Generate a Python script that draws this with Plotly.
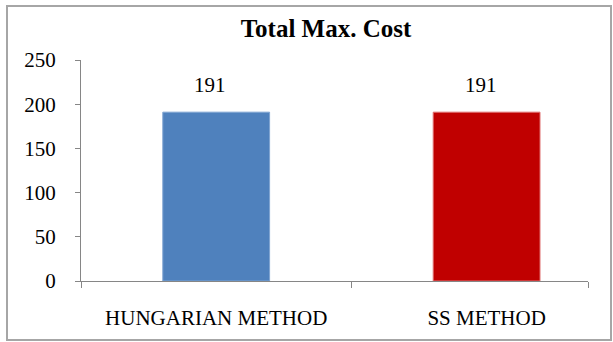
import plotly.graph_objects as go

categories = ["HUNGARIAN METHOD", "SS METHOD"]
values = [191, 191]
colors = ["#4F81BD", "#C00000"]
edge_colors = ["#7FA4D2", "#E07070"]
title_text = "Total Max. Cost"
y_tickvals = [0, 50, 100, 150, 200, 250]

SERIF = "Liberation Serif, Times New Roman, serif"

fig = go.Figure()
fig.add_trace(go.Bar(
    x=categories, y=values,
    marker=dict(color=colors, line=dict(color=edge_colors, width=1)),
    width=0.395,
    showlegend=False, hoverinfo="skip",
))
# invisible trace to carry the tick-mark overlay axis
fig.add_trace(go.Scatter(x=[-0.5], y=[0], xaxis="x2", mode="markers",
                         marker=dict(opacity=0), showlegend=False, hoverinfo="skip"))

for c, v in zip(categories, values):
    fig.add_annotation(x=c, y=v, text=str(v), showarrow=False,
                       yanchor="bottom", yshift=13, xshift=-6,
                       font=dict(family=SERIF, size=21, color="#000000"))

xr = [-0.5, 1.375]
fig.update_layout(
    width=613, height=342,
    margin=dict(l=81, r=25, t=60, b=61),
    paper_bgcolor="white", plot_bgcolor="white",
    title=dict(text="<b>" + title_text + "</b>", x=326/613, xanchor="center",
               y=1 - 28/342, yanchor="middle",
               font=dict(family=SERIF, size=25, color="#000000")),
    xaxis=dict(type="category", range=xr, showline=True, linecolor="#868686",
               linewidth=1, ticks="", showgrid=False, zeroline=False,
               tickfont=dict(family=SERIF, size=21, color="#000000"),
               ticklabelstandoff=18),
    xaxis2=dict(overlaying="x", anchor="y", side="bottom", range=xr,
                tickmode="array", tickvals=[-0.5, 0.5, 1.375],
                ticks="outside", ticklen=6, tickcolor="#868686",
                showticklabels=False, showline=False, showgrid=False,
                zeroline=False),
    yaxis=dict(range=[0, 250], tickmode="array", tickvals=y_tickvals,
               showline=True, linecolor="#868686", linewidth=1,
               ticks="outside", ticklen=5, tickcolor="#868686",
               showgrid=False, zeroline=False,
               tickfont=dict(family=SERIF, size=21, color="#000000"),
               ticklabelstandoff=15),
    shapes=[dict(type="rect", xref="paper", yref="paper",
                 x0=(7-81)/507, x1=(611-81)/507,
                 y0=(281-340)/221, y1=(281-6)/221,
                 line=dict(color="#A6A6A6", width=2), fillcolor="rgba(0,0,0,0)")],
)

fig.write_html("out.html")
